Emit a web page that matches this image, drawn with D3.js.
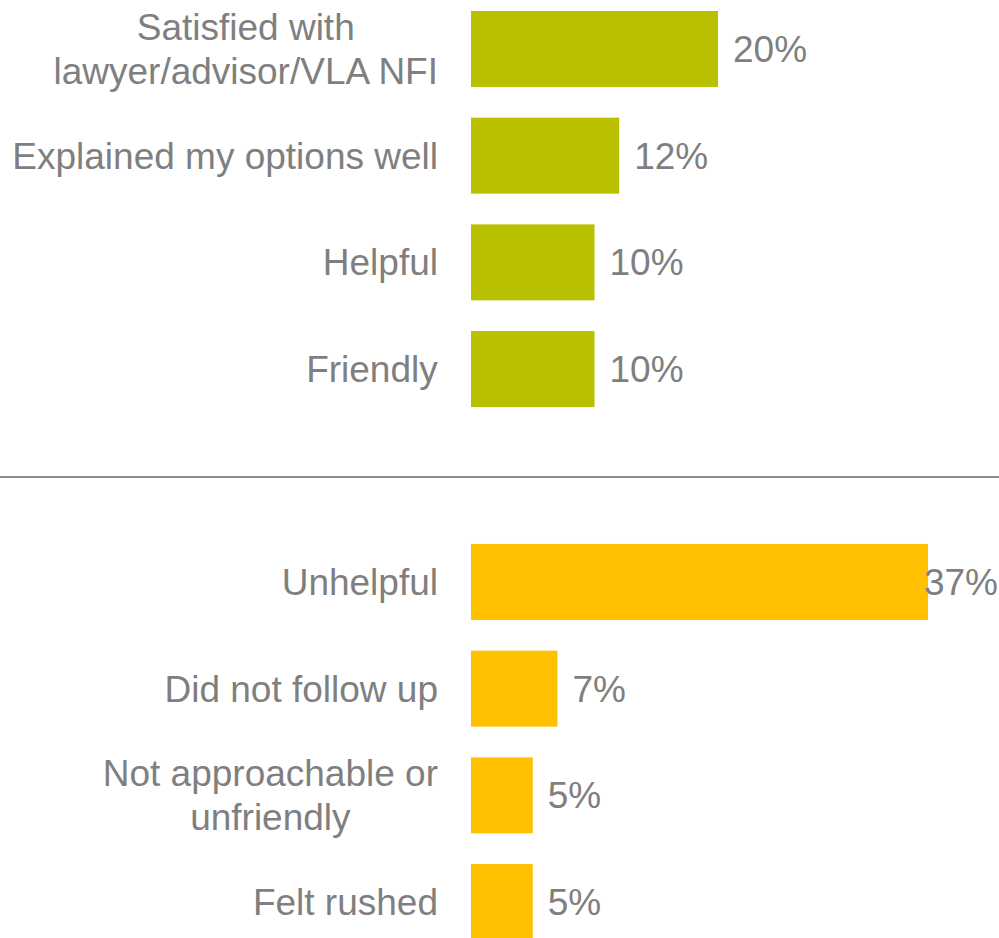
<!DOCTYPE html>
<html>
<head>
<meta charset="utf-8">
<script src="https://cdn.jsdelivr.net/npm/d3@7/dist/d3.min.js"></script>
<style>
  html, body { margin: 0; padding: 0; background: #ffffff; }
  svg { display: block; }
</style>
</head>
<body>
<div id="chart"></div>
<script>
// Positive comments about the lawyer / advisor
const positiveCategories = [
  ["Satisfied with", "lawyer/advisor/VLA NFI"],
  ["Explained my options well"],
  ["Helpful"],
  ["Friendly"]
];
const positiveValues = [20, 12, 10, 10];

// Negative comments about the lawyer / advisor
const negativeCategories = [
  ["Unhelpful"],
  ["Did not follow up"],
  ["Not approachable or", "unfriendly"],
  ["Felt rushed"]
];
const negativeValues = [37, 7, 5, 5];

const valueSuffix = "%";

const W = 999, H = 938;
const fontFamily = "'Liberation Sans', Arial, Helvetica, sans-serif";
const fontSize = 37;
const lineHeight = 44;
const textColor = "#7f7f7f";

const svg = d3.select("#chart").append("svg")
  .attr("width", W).attr("height", H)
  .attr("viewBox", `0 0 ${W} ${H}`);

// Shared value scale for both panels
const x = d3.scaleLinear().domain([0, 37]).range([471, 928]);

function drawPanel(cats, vals, yRange, color) {
  const keys = cats.map((c, i) => i);
  const y = d3.scaleBand().domain(keys).range(yRange)
    .paddingInner(0.288).paddingOuter(0.144);

  const g = svg.append("g");

  g.selectAll("rect.bar").data(vals).join("rect")
    .attr("class", "bar")
    .attr("x", x(0))
    .attr("y", (d, i) => y(i))
    .attr("width", d => x(d) - x(0))
    .attr("height", y.bandwidth())
    .attr("fill", color);

  // Category labels: block right-aligned to the bars, lines centred on each other
  cats.forEach((lines, i) => {
    const cy = y(i) + y.bandwidth() / 2;
    const t = g.append("text")
      .attr("font-family", fontFamily)
      .attr("font-size", fontSize)
      .attr("fill", textColor)
      .attr("text-anchor", "middle");
    const first = cy - (lines.length - 1) * lineHeight / 2;
    lines.forEach((ln, j) => {
      t.append("tspan")
        .attr("x", 0)
        .attr("y", first + j * lineHeight)
        .attr("dy", "0.35em")
        .text(ln);
    });
    const bb = t.node().getBBox();
    const right = 438;
    t.selectAll("tspan").attr("x", right - bb.width / 2);
  });

  // Value labels outside the bar end, kept inside the drawing area
  g.selectAll("text.val").data(vals).join("text")
    .attr("class", "val")
    .attr("font-family", fontFamily)
    .attr("font-size", fontSize)
    .attr("fill", textColor)
    .attr("y", (d, i) => y(i) + y.bandwidth() / 2)
    .attr("dy", "0.35em")
    .text(d => d + valueSuffix)
    .each(function (d) {
      const w = this.getComputedTextLength();
      const px = Math.min(x(d) + 15, W - 1 - w);
      d3.select(this).attr("x", px);
    });
}

drawPanel(positiveCategories, positiveValues, [-4.4, 422.4], "#b8c000");

// Divider between the two panels
svg.append("line")
  .attr("x1", 0).attr("x2", W)
  .attr("y1", 477).attr("y2", 477)
  .attr("stroke", "#8c8c8c").attr("stroke-width", 2);

drawPanel(negativeCategories, negativeValues, [528.6, 955.4], "#ffc000");
</script>
</body>
</html>
